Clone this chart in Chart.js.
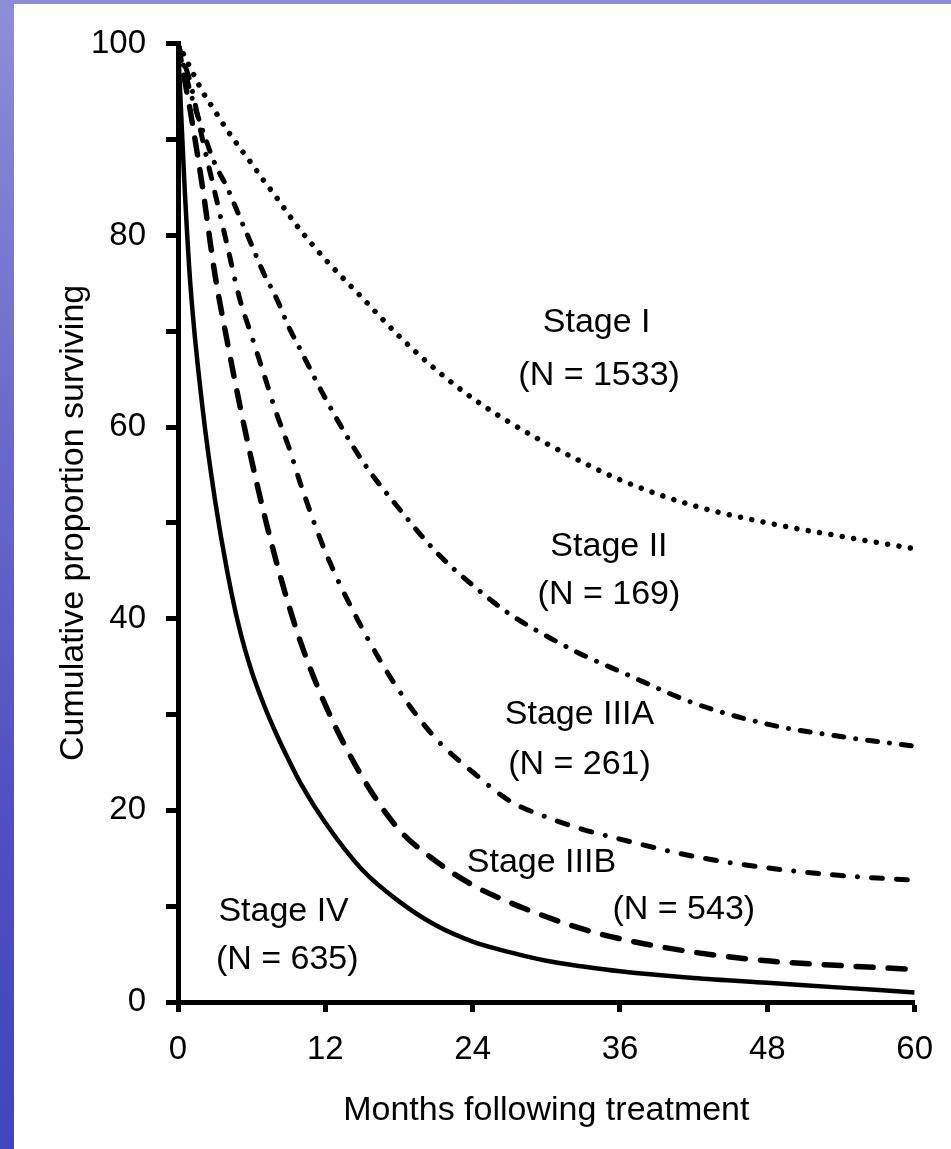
<!DOCTYPE html>
<html><head><meta charset="utf-8">
<script src="https://cdn.jsdelivr.net/npm/chart.js@4.4.1/dist/chart.umd.min.js"></script>
<style>
html,body{margin:0;padding:0;}
body{width:951px;height:1149px;overflow:hidden;position:relative;
  background:linear-gradient(180deg,#8e8ed8 0%,#6c6ccc 35%,#5050c2 70%,#4444bc 100%);}
#wrap{position:absolute;left:14px;top:4px;width:937px;height:1145px;background:#fff;}
canvas{display:block;}
</style></head><body>
<div id="wrap"><canvas id="c" width="937" height="1145"></canvas></div>
<script>
// ---- data ----
const months     = [0, 0.5, 1, 2, 3, 4, 5, 6, 7, 8, 9, 10, 12, 15, 18, 21, 24, 27, 30, 33, 36, 42, 48, 54, 60];
const stageI     = [100, 98.8, 97.5, 95, 93, 91, 89.2, 87.5, 85.7, 84, 82.2, 80.5, 77.5, 73.5, 69.5, 66, 63, 60.5, 58.3, 56.3, 54.5, 51.8, 50, 48.6, 47.3];
const stageII    = [100, 97.5, 95, 91, 87.5, 85, 82, 79, 76, 73.5, 70.5, 68, 63, 56.5, 51.5, 47, 43.5, 40.5, 38.2, 36.2, 34.5, 31.2, 29, 27.7, 26.7];
const stageIIIA  = [100, 98, 96, 90, 84.5, 79, 73.5, 69.5, 65.5, 61.5, 58, 54, 47, 39, 32.5, 27.5, 24, 21, 19.3, 18, 17, 15.2, 14, 13.2, 12.7];
const stageIIIB  = [100, 96.5, 93, 85, 76, 69, 62.5, 56.5, 51, 46, 41.5, 37.5, 31, 23.5, 18, 14.7, 12.2, 10.4, 8.9, 7.6, 6.6, 5.2, 4.3, 3.8, 3.4];
const stageIV    = [100, 86, 75, 62, 52.5, 45, 39, 34.5, 31, 28, 25.3, 22.8, 18.7, 13.8, 10.5, 8, 6.3, 5.2, 4.3, 3.7, 3.2, 2.5, 2, 1.5, 1.0];
const xTicks     = [0, 12, 24, 36, 48, 60];
const yLabelled  = [0, 20, 40, 60, 80, 100];
const stageLabels = ['Stage I', '(N = 1533)', 'Stage II', '(N = 169)', 'Stage IIIA', '(N = 261)', 'Stage IIIB', '(N = 543)', 'Stage IV', '(N = 635)'];
// label anchor positions (layout, in data units)
const labelMonth  = [34.1, 34.3, 35.1, 35.1, 32.7, 32.7, 29.6, 41.2, 8.6, 8.9];
const labelValue  = [70.9, 65.4, 47.5, 42.5, 30.0, 24.8, 14.5, 9.6, 9.4, 4.4];

const FONT = 'Liberation Sans';
const pts = arr => months.map((m, i) => ({x: m, y: arr[i]}));

const labelPlugin = {
  id: 'stageLabels',
  afterDatasetsDraw(chart) {
    const {ctx, scales: {x, y}} = chart;
    ctx.save();
    ctx.font = '34px "' + FONT + '"';
    ctx.fillStyle = '#000';
    ctx.textAlign = 'center';
    ctx.textBaseline = 'middle';
    stageLabels.forEach((t, i) => ctx.fillText(t, x.getPixelForValue(labelMonth[i]), y.getPixelForValue(labelValue[i])));
    ctx.restore();
  }
};

new Chart(document.getElementById('c'), {
  type: 'line',
  data: {
    datasets: [
      {label: 'Stage I', data: pts(stageI), borderColor: '#000', borderWidth: 5.5, borderDash: [0.01, 11.5], borderCapStyle: 'round', borderJoinStyle: 'round'},
      {label: 'Stage II', data: pts(stageII), borderColor: '#000', borderWidth: 5, borderDash: [10, 12, 0.01, 12], borderCapStyle: 'round', borderJoinStyle: 'round'},
      {label: 'Stage IIIA', data: pts(stageIIIA), borderColor: '#000', borderWidth: 5, borderDash: [11, 14, 11, 14, 0.01, 14], borderCapStyle: 'round', borderJoinStyle: 'round'},
      {label: 'Stage IIIB', data: pts(stageIIIB), borderColor: '#000', borderWidth: 5.5, borderDash: [17, 15], borderCapStyle: 'round', borderJoinStyle: 'round'},
      {label: 'Stage IV', data: pts(stageIV), borderColor: '#000', borderWidth: 4.5, borderJoinStyle: 'round'}
    ]
  },
  options: {
    responsive: false,
    animation: false,
    devicePixelRatio: 1,
    layout: {padding: {top: 36, right: 31, left: 0, bottom: 0}},
    plugins: {legend: {display: false}, tooltip: {enabled: false}},
    elements: {point: {radius: 0}, line: {cubicInterpolationMode: 'monotone', fill: false}},
    scales: {
      x: {
        type: 'linear', min: 0, max: 60,
        afterFit(s) { s.height = 147; },
        afterBuildTicks(s) { s.ticks = xTicks.map(v => ({value: v})); },
        ticks: {color: '#000', font: {family: FONT, size: 33}, padding: 18, maxRotation: 0},
        grid: {drawOnChartArea: false, drawTicks: true, tickLength: 10, tickWidth: 5, tickColor: '#000'},
        border: {display: true, color: '#000', width: 5},
        title: {display: true, text: 'Months following treatment', color: '#000', font: {family: FONT, size: 34}, padding: {top: 0, bottom: 18}}
      },
      y: {
        min: 0, max: 100,
        afterFit(s) { s.width = 164; },
        ticks: {stepSize: 10, color: '#000', font: {family: FONT, size: 33}, padding: 20,
          callback: v => yLabelled.includes(v) ? String(v) : ''},
        grid: {drawOnChartArea: false, drawTicks: true, tickLength: 12, tickWidth: 5, tickColor: '#000'},
        border: {display: true, color: '#000', width: 5},
        title: {display: true, text: 'Cumulative proportion surviving', color: '#000', font: {family: FONT, size: 34}, padding: {top: 39, bottom: 0}}
      }
    }
  },
  plugins: [labelPlugin]
});
</script>
</body></html>
